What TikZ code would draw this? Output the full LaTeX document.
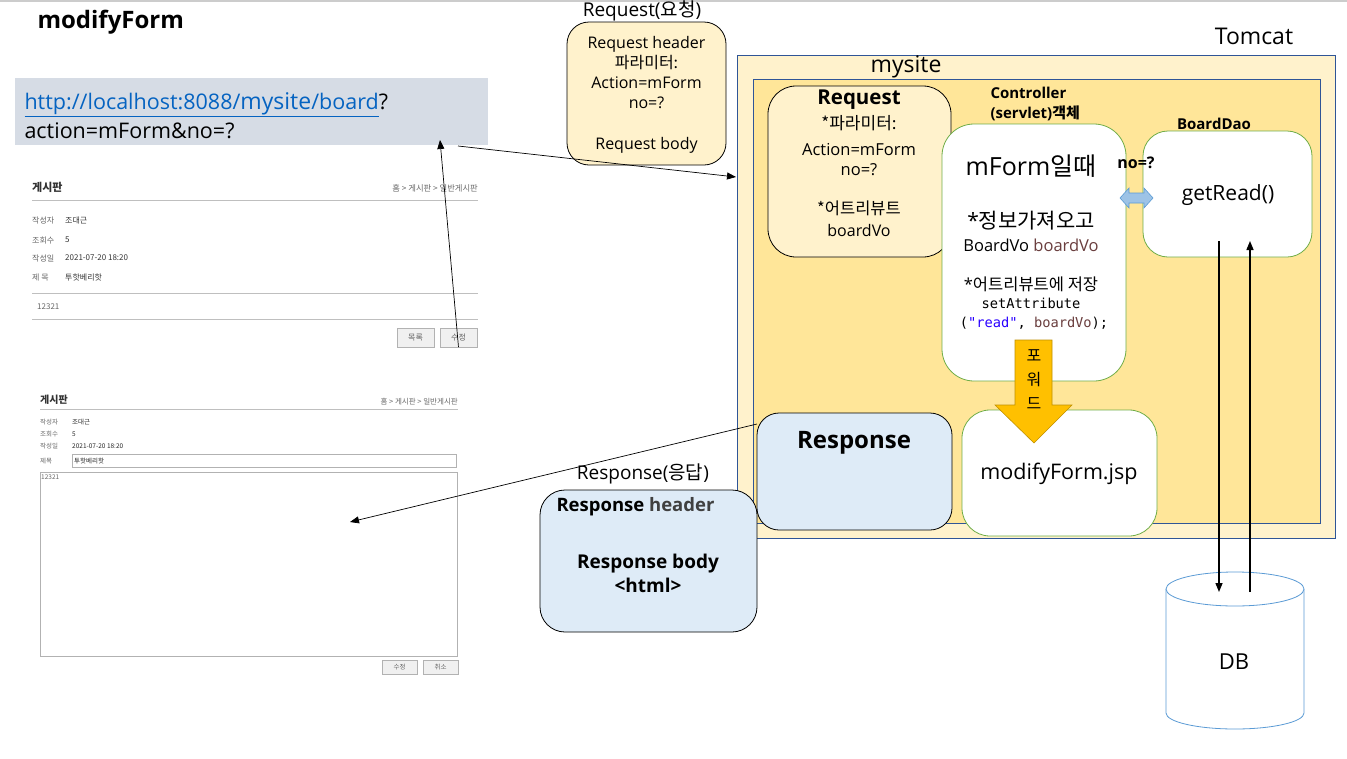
\documentclass[tikz,border=0pt]{standalone}
\usepackage{fontspec}
\setmainfont{Open Sans}
\setmonofont{DejaVu Sans Mono}
\newfontfamily\kr{Noto Sans CJK KR}
\usetikzlibrary{positioning, arrows.meta}

\definecolor{urlbg}{HTML}{D6DCE5}
\definecolor{linkblue}{HTML}{0563C1}
\definecolor{paleyellow}{HTML}{FFF2CC}
\definecolor{goldyellow}{HTML}{FFE699}
\definecolor{frameblue}{HTML}{2F5597}
\definecolor{boxgreen}{HTML}{70AD47}
\definecolor{paleblue}{HTML}{DEEBF7}
\definecolor{fwdorange}{HTML}{FFC000}
\definecolor{fwdborder}{HTML}{BF9000}
\definecolor{dbblue}{HTML}{5B9BD5}
\definecolor{linkfill}{HTML}{9DC3E6}
\definecolor{varbrown}{HTML}{6A3E3E}
\definecolor{strblue}{HTML}{2A00FF}
\definecolor{shotgray}{HTML}{666666}

\begin{document}
\begin{tikzpicture}[x=1pt,y=-1pt]
    \tikzset{edge/.style = {-{Triangle[length=9pt,width=7pt]}, line width=0.7pt}}
    \tikzset{dbedge/.style = {-{Triangle[length=9pt,width=7pt]}, line width=1.4pt}}
    \tikzset{note/.style = {draw=black, fill=paleyellow, line width=0.8pt}}
    \tikzset{wbox/.style = {draw=boxgreen, fill=white, line width=0.8pt}}
    \tikzset{bluebox/.style = {draw=black, fill=paleblue, line width=0.8pt}}
    \tikzset{frame/.style = {draw=frameblue, line width=0.8pt, inner sep=0pt}}
    \tikzset{shot/.style = {font=\kr\fontsize{8}{9}\selectfont, text=shotgray, anchor=west, inner sep=0pt}}
    \tikzset{smallshot/.style = {shot, font=\kr\fontsize{6.5}{8}\selectfont}}
    \tikzset{shotbtn/.style = {draw=gray!60, fill=gray!12, text=shotgray, inner sep=0pt}}

    \useasboundingbox (0,0) rectangle (1347,758);
    \draw[gray!40, line width=1.2pt] (0,1) -- (1347,1);

    % title and address bar
    \node[anchor=west, font=\bfseries\fontsize{24}{28}\selectfont] (title) at (34,22) {modifyForm};
    \node[fill=urlbg, minimum width=473pt, minimum height=67pt, inner sep=0pt] (url) at (251.5,111.5) {};
    \node[anchor=west, align=left, font=\fontsize{21.5}{29}\selectfont] (urltxt) at (21,115.5)
        {\textcolor{linkblue}{\underline{http://localhost:8088/{\fontsize{23}{29}\selectfont mysite}/board}}?\\action=mForm\&no=?};

    % board view screenshot
    \node[anchor=west, inner sep=0pt, text=black!80, font=\kr\bfseries\fontsize{11}{13}\selectfont] (vtitle) at (32,187) {게시판};
    \node[shot, anchor=east, font=\kr\fontsize{8.3}{9}\selectfont] (vcrumb) at (478,188) {홈 > 게시판 > 일반게시판};
    \draw[gray!50, line width=0.8pt] (32,200) -- (478,200);
    \foreach \y/\k/\v in {220/작성자/조대근, 240/조회수/5, 258/작성일/2021-07-20 18:20, 277/제 목/투핫베리핫}{
        \node[shot] (vk\y) at (32,\y) {\k};
        \node[shot, text=black!80] (vv\y) at (65,\y) {\v};
    }
    \draw[gray!50, line width=0.8pt] (32,293) -- (478,293);
    \node[shot] (vbody) at (37,307) {12321};
    \draw[gray!50, line width=0.8pt] (32,319) -- (478,319);
    \node[shotbtn, font=\kr\fontsize{8}{9}\selectfont, minimum width=37pt, minimum height=19pt] (vList) at (415.5,337.5) {목록};
    \node[shotbtn, font=\kr\fontsize{8}{9}\selectfont, minimum width=37pt, minimum height=19pt] (vEdit) at (458.5,337.5) {수정};

    % modify form screenshot
    \node[anchor=west, inner sep=0pt, text=black!80, font=\kr\bfseries\fontsize{10}{12}\selectfont] (ftitle) at (40,400) {게시판};
    \node[smallshot, anchor=east, font=\kr\fontsize{7.5}{8}\selectfont] (fcrumb) at (458,402) {홈 > 게시판 > 일반게시판};
    \draw[gray!50, line width=0.8pt] (40,409) -- (458,409);
    \foreach \y/\k/\v in {422/작성자/조대근, 434/조회수/5, 446/작성일/2021-07-20 18:20}{
        \node[smallshot] (fk\y) at (40,\y) {\k};
        \node[smallshot, text=black!85] (fv\y) at (72,\y) {\v};
    }
    \node[smallshot] (fk461) at (40,461) {제목};
    \node[draw=gray!60, minimum width=384pt, minimum height=13pt, inner sep=0pt] (fsubject) at (264,460.5) {};
    \node[smallshot, text=black!85] (fsubjtxt) at (74,461) {투핫베리핫};
    \node[draw=gray!60, minimum width=417pt, minimum height=184pt, inner sep=0pt] (farea) at (248.5,564) {};
    \node[smallshot] (fbody) at (41,477) {12321};
    \node[shotbtn, font=\kr\fontsize{6.5}{8}\selectfont, minimum width=35pt, minimum height=14pt] (fSave) at (399.5,667) {수정};
    \node[shotbtn, font=\kr\fontsize{6.5}{8}\selectfont, minimum width=35pt, minimum height=14pt] (fCancel) at (440.5,667) {취소};

    % request sent by the browser
    \node[font=\fontsize{19}{22}\selectfont] (reqlbl) at (642,11) {Request({\kr 요청})};
    \node[note, rounded corners=22pt, minimum width=159pt, minimum height=143pt] (reqhead) at (646.5,93.5) {};
    \node[align=center, font=\fontsize{16}{20}\selectfont] (reqheadtxt) at (646.5,95)
        {Request header\\{\kr 파라미터:}\\Action=mForm\\no=?\\[21pt]Request body};

    % tomcat and mysite
    \node[font=\fontsize{23}{26}\selectfont] (tomcatlbl) at (1254,36) {Tomcat};
    \node[frame, fill=paleyellow, minimum width=598pt, minimum height=483pt] (tomcat) at (1036,296.5) {};
    \node[font=\fontsize{23}{26}\selectfont] (mysitelbl) at (906,67) {mysite};
    \node[frame, fill=goldyellow, minimum width=567pt, minimum height=444pt] (mysite) at (1036.5,301) {};

    % request object
    \node[note, rounded corners=28pt, minimum width=183pt, minimum height=171pt] (reqin) at (859.5,171.5) {};
    \node[font=\bfseries\fontsize{20.5}{24}\selectfont] (reqin1) at (859,100) {Request};
    \node[font=\kr\fontsize{17}{20}\selectfont] (reqin2) at (859,123) {*파라미터:};
    \node[font=\fontsize{16.5}{19}\selectfont] (reqin3) at (859,150) {Action=mForm};
    \node[font=\fontsize{16.5}{19}\selectfont] (reqin4) at (859,170) {no=?};
    \node[font=\kr\fontsize{16.5}{19}\selectfont] (reqin5) at (859,208) {*어트리뷰트};
    \node[font=\fontsize{16}{19}\selectfont] (reqin6) at (859,230) {boardVo};

    % controller
    \node[anchor=west, align=left, font=\bfseries\fontsize{15}{20}\selectfont] (ctrllbl) at (987,104) {Controller\\(servlet){\kr 객체}};
    \node[wbox, rounded corners=32pt, minimum width=184pt, minimum height=257pt] (ctrl) at (1034,252.5) {};
    \node[font=\fontsize{25}{28}\selectfont] (ctrl1) at (1031,166) {mForm{\kr 일때}};
    \node[font=\fontsize{21}{24}\selectfont] (ctrl2) at (1031,221) {*{\kr 정보가져오고}};
    \node[font=\fontsize{16.5}{19}\selectfont] (ctrl3) at (1031,245) {BoardVo \textcolor{varbrown}{boardVo}};
    \node[font=\fontsize{16.5}{19}\selectfont] (ctrl4) at (1031,284) {*{\kr 어트리뷰트에 저장}};
    \node[font=\ttfamily\fontsize{13.7}{16}\selectfont] (ctrl5) at (1031,303) {setAttribute};
    \node[font=\ttfamily\fontsize{13.7}{16}\selectfont] (ctrl6) at (1034,323) {(\textcolor{strblue}{"read"}, \textcolor{varbrown}{boardVo});};

    % dao
    \node[wbox, rounded corners=25pt, minimum width=169pt, minimum height=126pt] (dao) at (1227.5,194) {};
    \node[font=\bfseries\fontsize{15}{18}\selectfont] (daolbl) at (1214,124) {BoardDao};
    \node[font=\fontsize{21}{24}\selectfont] (daotxt) at (1228,195) {getRead()};
    \node[font=\bfseries\fontsize{16}{19}\selectfont] (nolbl) at (1136,163) {no=?};
    % link between controller and dao
    \draw[draw=dbblue, fill=linkfill, line width=0.6pt] (1120,198) -- (1129,188) -- (1129,193) -- (1144,193)
        -- (1144,188) -- (1153,198) -- (1144,208) -- (1144,203) -- (1129,203) -- (1129,208) -- cycle;

    % response and view
    \node[bluebox, rounded corners=22pt, minimum width=195pt, minimum height=117pt] (resp) at (854.5,471.5) {};
    \node[font=\bfseries\fontsize{24}{28}\selectfont] (resplbl) at (854,443) {Response};
    \node[wbox, rounded corners=28pt, minimum width=195pt, minimum height=126pt] (jsp) at (1059.5,473) {};
    \node[font=\fontsize{21.5}{24}\selectfont] (jsptxt) at (1059,474) {modifyForm.jsp};

    % forward
    \draw[fill=fwdorange, draw=fwdborder, line width=0.6pt] (1015,340) -- (1052,340) -- (1052,405) -- (1072,405)
        -- (1034,443) -- (995,405) -- (1015,405) -- cycle;
    \node[align=center, font=\kr\fontsize{16}{24}\selectfont] (fwdtxt) at (1034,380) {포\\워\\드};

    % response sent back
    \node[font=\fontsize{19}{22}\selectfont] (respsent) at (643,474) {Response({\kr 응답})};
    \node[bluebox, rounded corners=25pt, minimum width=217pt, minimum height=142pt] (resphead) at (648.5,561) {};
    \node[anchor=west, font=\bfseries\fontsize{18.5}{22}\selectfont] (resphtxt) at (553,507) {Response \textcolor{black!75}{header}};
    \node[align=center, font=\bfseries\fontsize{19}{24}\selectfont] (respbody) at (648,573) {Response body\\<html>};

    % db
    \draw[dbblue, fill=white, line width=0.8pt] (1166,589) -- (1166,713)
        arc[start angle=180, end angle=360, x radius=69pt, y radius=16pt] -- (1304,589);
    \draw[dbblue, fill=white, line width=0.8pt] (1235,589) ellipse [x radius=69pt, y radius=17pt];
    \node[font=\fontsize{22}{26}\selectfont] (db) at (1234,662) {DB};

    % connectors
    \coordinate (urlIn) at (440,140);
    \coordinate (urlOut) at (458,146);
    \coordinate (tomcatIn) at (736,177);
    \coordinate (respOut) at (757,424);
    \coordinate (formIn) at (350,522);
    \coordinate (daoDown) at (1219,241);
    \coordinate (dbIn) at (1219,592);
    \coordinate (dbOut) at (1250,592);
    \coordinate (daoUp) at (1250,241);
    \draw[edge] (vEdit.south) -- (urlIn);
    \draw[edge] (urlOut) -- (tomcatIn);
    \draw[edge] (respOut) -- (formIn);
    \draw[dbedge] (daoDown) -- (dbIn);
    \draw[dbedge] (dbOut) -- (daoUp);
\end{tikzpicture}
\end{document}
